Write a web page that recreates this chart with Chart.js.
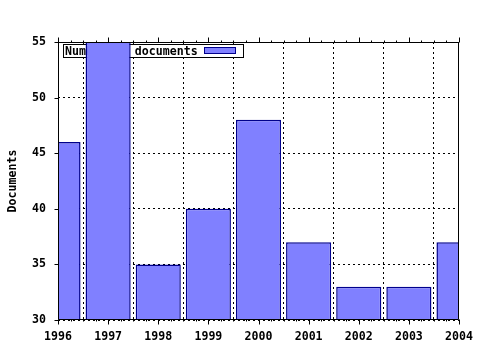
<!DOCTYPE html>
<html>
<head>
<meta charset="utf-8">
<script src="https://cdn.jsdelivr.net/npm/chart.js@4.4.0/dist/chart.umd.min.js"></script>
<style>
html,body{margin:0;padding:0;background:#fff;}
#wrap{width:480px;height:350px;}
</style>
</head>
<body>
<div id="wrap"><canvas id="c" width="480" height="350"></canvas></div>
<script>
const years = ['1996','1997','1998','1999','2000','2001','2002','2003','2004'];
const documents = [46, 56, 35, 40, 48, 37, 33, 33, 37];
const seriesLabel = 'Number of documents';
const yTitle = 'Documents';
const yMin = 30, yMax = 55, yStep = 5;

const FONT = 'DejaVu Sans Mono';
const FILL = '#8080ff';
const EDGE = '#00008c';

const framePlugin = {
  id: 'frame',
  beforeDatasetsDraw(chart) {
    const ctx = chart.ctx;
    const a = chart.chartArea;
    ctx.save();
    const bx = Math.round(a.left) + 5.5, by = Math.round(a.top) + 2.5, bw = 180, bh = 13;
    ctx.fillStyle = '#fff';
    ctx.fillRect(bx, by, bw, bh);
    ctx.strokeStyle = '#000';
    ctx.lineWidth = 1;
    ctx.strokeRect(bx, by, bw, bh);
    ctx.font = 'bold 11.6px "' + FONT + '"';
    ctx.fillStyle = '#000';
    ctx.textBaseline = 'middle';
    ctx.textAlign = 'left';
    ctx.fillText(chart.data.datasets[0].label, bx + 1.5, by + bh / 2 + 0.5);
    ctx.fillStyle = FILL;
    ctx.fillRect(bx + 141, by + 3, 31, 6);
    ctx.strokeStyle = EDGE;
    ctx.strokeRect(bx + 141, by + 3, 31, 6);
    ctx.restore();
  },
  afterDraw(chart) {
    const ctx = chart.ctx;
    const a = chart.chartArea;
    const xs = chart.scales.x, ys = chart.scales.y;
    ctx.save();
    ctx.strokeStyle = '#000';
    ctx.lineWidth = 1;
    const L = Math.round(a.left) + 0.5, R = Math.round(a.right) - 0.5;
    const T = Math.round(a.top) + 0.5, B = Math.round(a.bottom) - 0.5;
    ctx.beginPath();
    ctx.moveTo(L, T); ctx.lineTo(R, T); ctx.lineTo(R, B); ctx.lineTo(L, B); ctx.closePath();
    ctx.stroke();
    ctx.beginPath();
    for (let i = 0; i < years.length; i++) {
      const x = Math.round(xs.getPixelForValue(i)) + 0.5;
      ctx.moveTo(x, B); ctx.lineTo(x, B + 5);
      ctx.moveTo(x, T); ctx.lineTo(x, T - 5);
      if (i < years.length - 1) {
        for (let k = 1; k < 4; k++) {
          const xm = Math.round(xs.getPixelForValue(i + k / 4)) + 0.5;
          ctx.moveTo(xm, B); ctx.lineTo(xm, B + 2);
          ctx.moveTo(xm, T); ctx.lineTo(xm, T - 2);
        }
      }
    }
    for (let v = yMin; v <= yMax; v += yStep) {
      const y = Math.round(ys.getPixelForValue(v)) + 0.5;
      ctx.moveTo(L, y); ctx.lineTo(L - 4, y);
    }
    ctx.stroke();
    ctx.restore();
  }
};

new Chart(document.getElementById('c'), {
  type: 'bar',
  data: {
    labels: years,
    datasets: [{
      label: seriesLabel,
      data: documents,
      backgroundColor: FILL,
      borderColor: EDGE,
      borderWidth: 1.5,
      borderSkipped: 'bottom',
      barPercentage: 0.9,
      categoryPercentage: 1.0,
      clip: 0
    }]
  },
  options: {
    responsive: false,
    animation: false,
    devicePixelRatio: 1,
    layout: { padding: { left: 0, top: 42, right: 21, bottom: 0 } },
    plugins: { legend: { display: false }, tooltip: { enabled: false } },
    scales: {
      x: {
        type: 'category',
        offset: false,
        grid: { display: true, color: '#000', lineWidth: 1, drawTicks: false },
        border: { display: false, dash: [2, 3] },
        ticks: { color: '#000', font: { family: FONT, size: 11.6, weight: 'bold' }, padding: 10, maxRotation: 0, autoSkip: false },
        afterFit(s) { s.height = 30; s.paddingLeft = 0; s.paddingRight = 0; }
      },
      y: {
        min: yMin, max: yMax,
        grid: { display: true, color: '#000', lineWidth: 1, drawTicks: false },
        border: { display: false, dash: [2, 3] },
        ticks: { stepSize: yStep, color: '#000', font: { family: FONT, size: 11.6, weight: 'bold' }, padding: 12 },
        title: { display: true, text: yTitle, color: '#000', font: { family: FONT, size: 11.6, weight: 'bold' }, padding: { top: 6, bottom: 0 } },
        afterFit(s) { s.width = 58; s.paddingTop = 0; s.paddingBottom = 0; }
      }
    }
  },
  plugins: [framePlugin]
});
</script>
</body>
</html>
